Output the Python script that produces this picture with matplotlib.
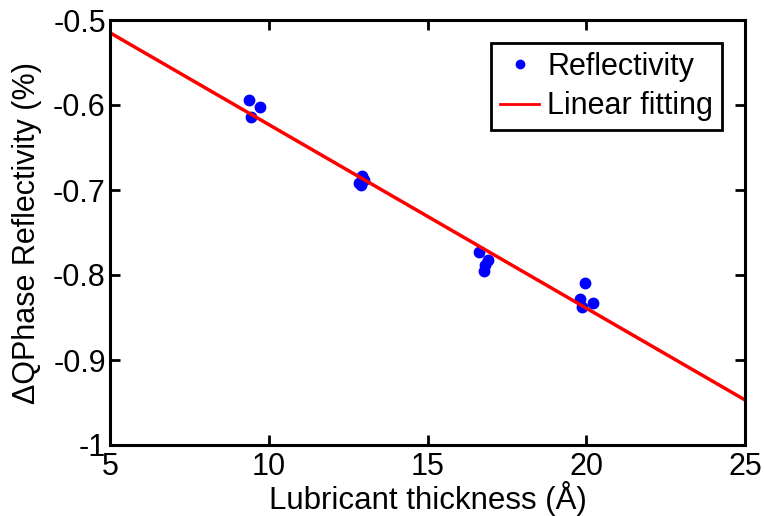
import numpy as np
import matplotlib.pyplot as plt

thickness = [9.38, 9.72, 9.44,
             12.94, 12.84, 12.90, 13.00,
             16.62, 16.90, 16.80, 16.78,
             19.96, 19.80, 20.20, 19.87]
reflectivity = [-0.594, -0.602, -0.614,
                -0.684, -0.692, -0.694, -0.688,
                -0.773, -0.782, -0.788, -0.795,
                -0.809, -0.828, -0.833, -0.838]

# Linear fit as drawn in the picture (value at x=5 and x=25)
fit_x = [5, 25]
fit_y = [-0.515, -0.947]

xticks = [5, 10, 15, 20, 25]
yticks = [-1, -0.9, -0.8, -0.7, -0.6, -0.5]
ytick_labels = ['-1', '-0.9', '-0.8', '-0.7', '-0.6', '-0.5']

plt.rcParams['font.family'] = ['Liberation Sans', 'DejaVu Sans']

fig = plt.figure(figsize=(7.64, 5.16), dpi=100)
ax = fig.add_axes([110 / 764, 1 - 445 / 516, 635 / 764, 425 / 516])

ax.plot(thickness, reflectivity, 'o', color='#0000ff', markersize=7.5, label='Reflectivity')
ax.plot(fit_x, fit_y, '-', color='#ff0000', linewidth=2.5, label='Linear fitting')

ax.set_xlim(5, 25)
ax.set_ylim(-1, -0.5)
ax.set_xticks(xticks)
ax.set_yticks(yticks)
ax.set_yticklabels(ytick_labels)
ax.tick_params(direction='in', top=True, right=True, length=7, width=2,
               labelsize=22)
ax.tick_params(axis='x', pad=5)
ax.tick_params(axis='y', pad=3)
for s in ax.spines.values():
    s.set_linewidth(2.2)

ax.set_xlabel('Lubricant thickness (Å)', fontsize=22.5, labelpad=-1)
ax.set_ylabel('ΔQPhase Reflectivity (%)', fontsize=22)
ax.yaxis.set_label_coords(-0.107, 0.5)

leg = ax.legend(loc='upper right', fontsize=22, fancybox=False, framealpha=1,
                edgecolor='black', borderaxespad=0.75, handlelength=1.3,
                handletextpad=0.25, borderpad=0.3, labelspacing=0.3,
                markerscale=0.8)
leg.get_frame().set_linewidth(2)
leg.get_lines()[1].set_linewidth(2)

plt.savefig('out.png', dpi=100)
